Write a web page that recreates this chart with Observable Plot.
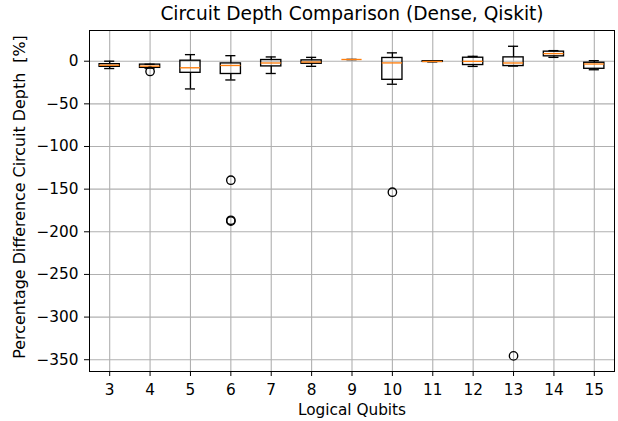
<!DOCTYPE html>
<html>
<head>
<meta charset="utf-8">
<script src="https://cdn.jsdelivr.net/npm/d3@7"></script>
<script src="https://cdn.jsdelivr.net/npm/@observablehq/plot@0.6"></script>
<style>
  html, body { margin: 0; padding: 0; background: white; }
</style>
</head>
<body>
<div id="chart"></div>
<script>
const title = "Circuit Depth Comparison (Dense, Qiskit)";
const xLabel = "Logical Qubits";
const yLabel = "Percentage Difference Circuit Depth  [%]";

const qubits      = [3, 4, 5, 6, 7, 8, 9, 10, 11, 12, 13, 14, 15];
const whiskerLow  = [-8.6, -8.2, -32.5, -22, -14.4, -6, 2, -27, -0.8, -6.1, -5.7, 4.5, -10];
const q1s         = [-6.6, -7.8, -13.6, -15, -6.1, -3, 2, -21.8, -0.8, -4.5, -5.7, 5.7, -8.9];
const medians     = [-4.7, -5.8, -7.7, -5, -2.1, -1, 2, -2.0, -0.3, -0.2, -2.1, 8.9, -3.3];
const q3s         = [-3.5, -4, 0.6, -2.6, 1.4, 1, 2, 3.8, 0, 4.1, 4.5, 11.2, -1.8];
const whiskerHigh = [0, -3.6, 7.7, 6.5, 5, 4.5, 2, 9.8, 0, 5.7, 17.5, 12.4, 0.6];

const outlierQubits = [4, 6, 6, 6, 10, 13];
const outlierValues = [-12, -139.5, -186.5, -187.5, -153.6, -345.5];

const yTicks = [0, -50, -100, -150, -200, -250, -300, -350];

const boxes = qubits.map((q, i) => ({
  q, lo: whiskerLow[i], q1: q1s[i], med: medians[i], q3: q3s[i], hi: whiskerHigh[i]
}));
const outliers = outlierQubits.map((q, i) => ({q, v: outlierValues[i]}));

const BOX_HALF = 0.25, CAP_HALF = 0.125;
const LW = 1.35;
const FS = 15.3;

const chart = Plot.plot({
  width: 618,
  height: 421,
  marginLeft: 89,
  marginRight: 4,
  marginTop: 30,
  marginBottom: 50,
  style: "font-family: 'DejaVu Sans'; font-size: 15.3px; background: white; color: black;",
  x: {type: "linear", domain: [2.5, 15.5]},
  y: {type: "linear", domain: [-363.8, 36]},
  marks: [
    Plot.gridX(qubits, {stroke: "#b0b0b0", strokeOpacity: 1, strokeWidth: 1.1}),
    Plot.gridY(yTicks, {stroke: "#b0b0b0", strokeOpacity: 1, strokeWidth: 1.1}),
    Plot.axisX(qubits, {tickSize: 5, tickPadding: 8, label: null, tickFormat: d => String(d), stroke: "black", fill: "black", fontSize: FS}),
    Plot.axisY(yTicks, {tickSize: 5, tickPadding: 6, label: null, tickFormat: d3.format("d"), stroke: "black", fill: "black", fontSize: FS}),
    // whiskers
    Plot.ruleX(boxes, {x: "q", y1: "lo", y2: "q1", stroke: "black", strokeWidth: LW}),
    Plot.ruleX(boxes, {x: "q", y1: "q3", y2: "hi", stroke: "black", strokeWidth: LW}),
    // caps
    Plot.ruleY(boxes, {y: "lo", x1: d => d.q - CAP_HALF, x2: d => d.q + CAP_HALF, stroke: "black", strokeWidth: LW}),
    Plot.ruleY(boxes, {y: "hi", x1: d => d.q - CAP_HALF, x2: d => d.q + CAP_HALF, stroke: "black", strokeWidth: LW}),
    // boxes
    Plot.rect(boxes, {x1: d => d.q - BOX_HALF, x2: d => d.q + BOX_HALF, y1: "q1", y2: "q3", fill: "none", stroke: "black", strokeWidth: LW}),
    // medians
    Plot.ruleY(boxes, {y: "med", x1: d => d.q - BOX_HALF, x2: d => d.q + BOX_HALF, stroke: "#ff7f0e", strokeWidth: LW}),
    // outliers
    Plot.dot(outliers, {x: "q", y: "v", r: 4.2, stroke: "black", fill: "none", strokeWidth: LW}),
    Plot.frame({stroke: "black", strokeWidth: 1}),
    // labels
    Plot.text([title], {frameAnchor: "top", dy: -16, fontSize: 18.6, fill: "black", textAnchor: "middle", lineAnchor: "middle"}),
    Plot.text([xLabel], {frameAnchor: "bottom", dy: 39, fontSize: FS, fill: "black", textAnchor: "middle", lineAnchor: "middle"}),
    Plot.text([yLabel], {frameAnchor: "left", dx: -70, dy: -4, rotate: -90, fontSize: 15.9, fill: "black", textAnchor: "middle", lineAnchor: "middle"})
  ]
});

document.getElementById("chart").appendChild(chart);
</script>
</body>
</html>
